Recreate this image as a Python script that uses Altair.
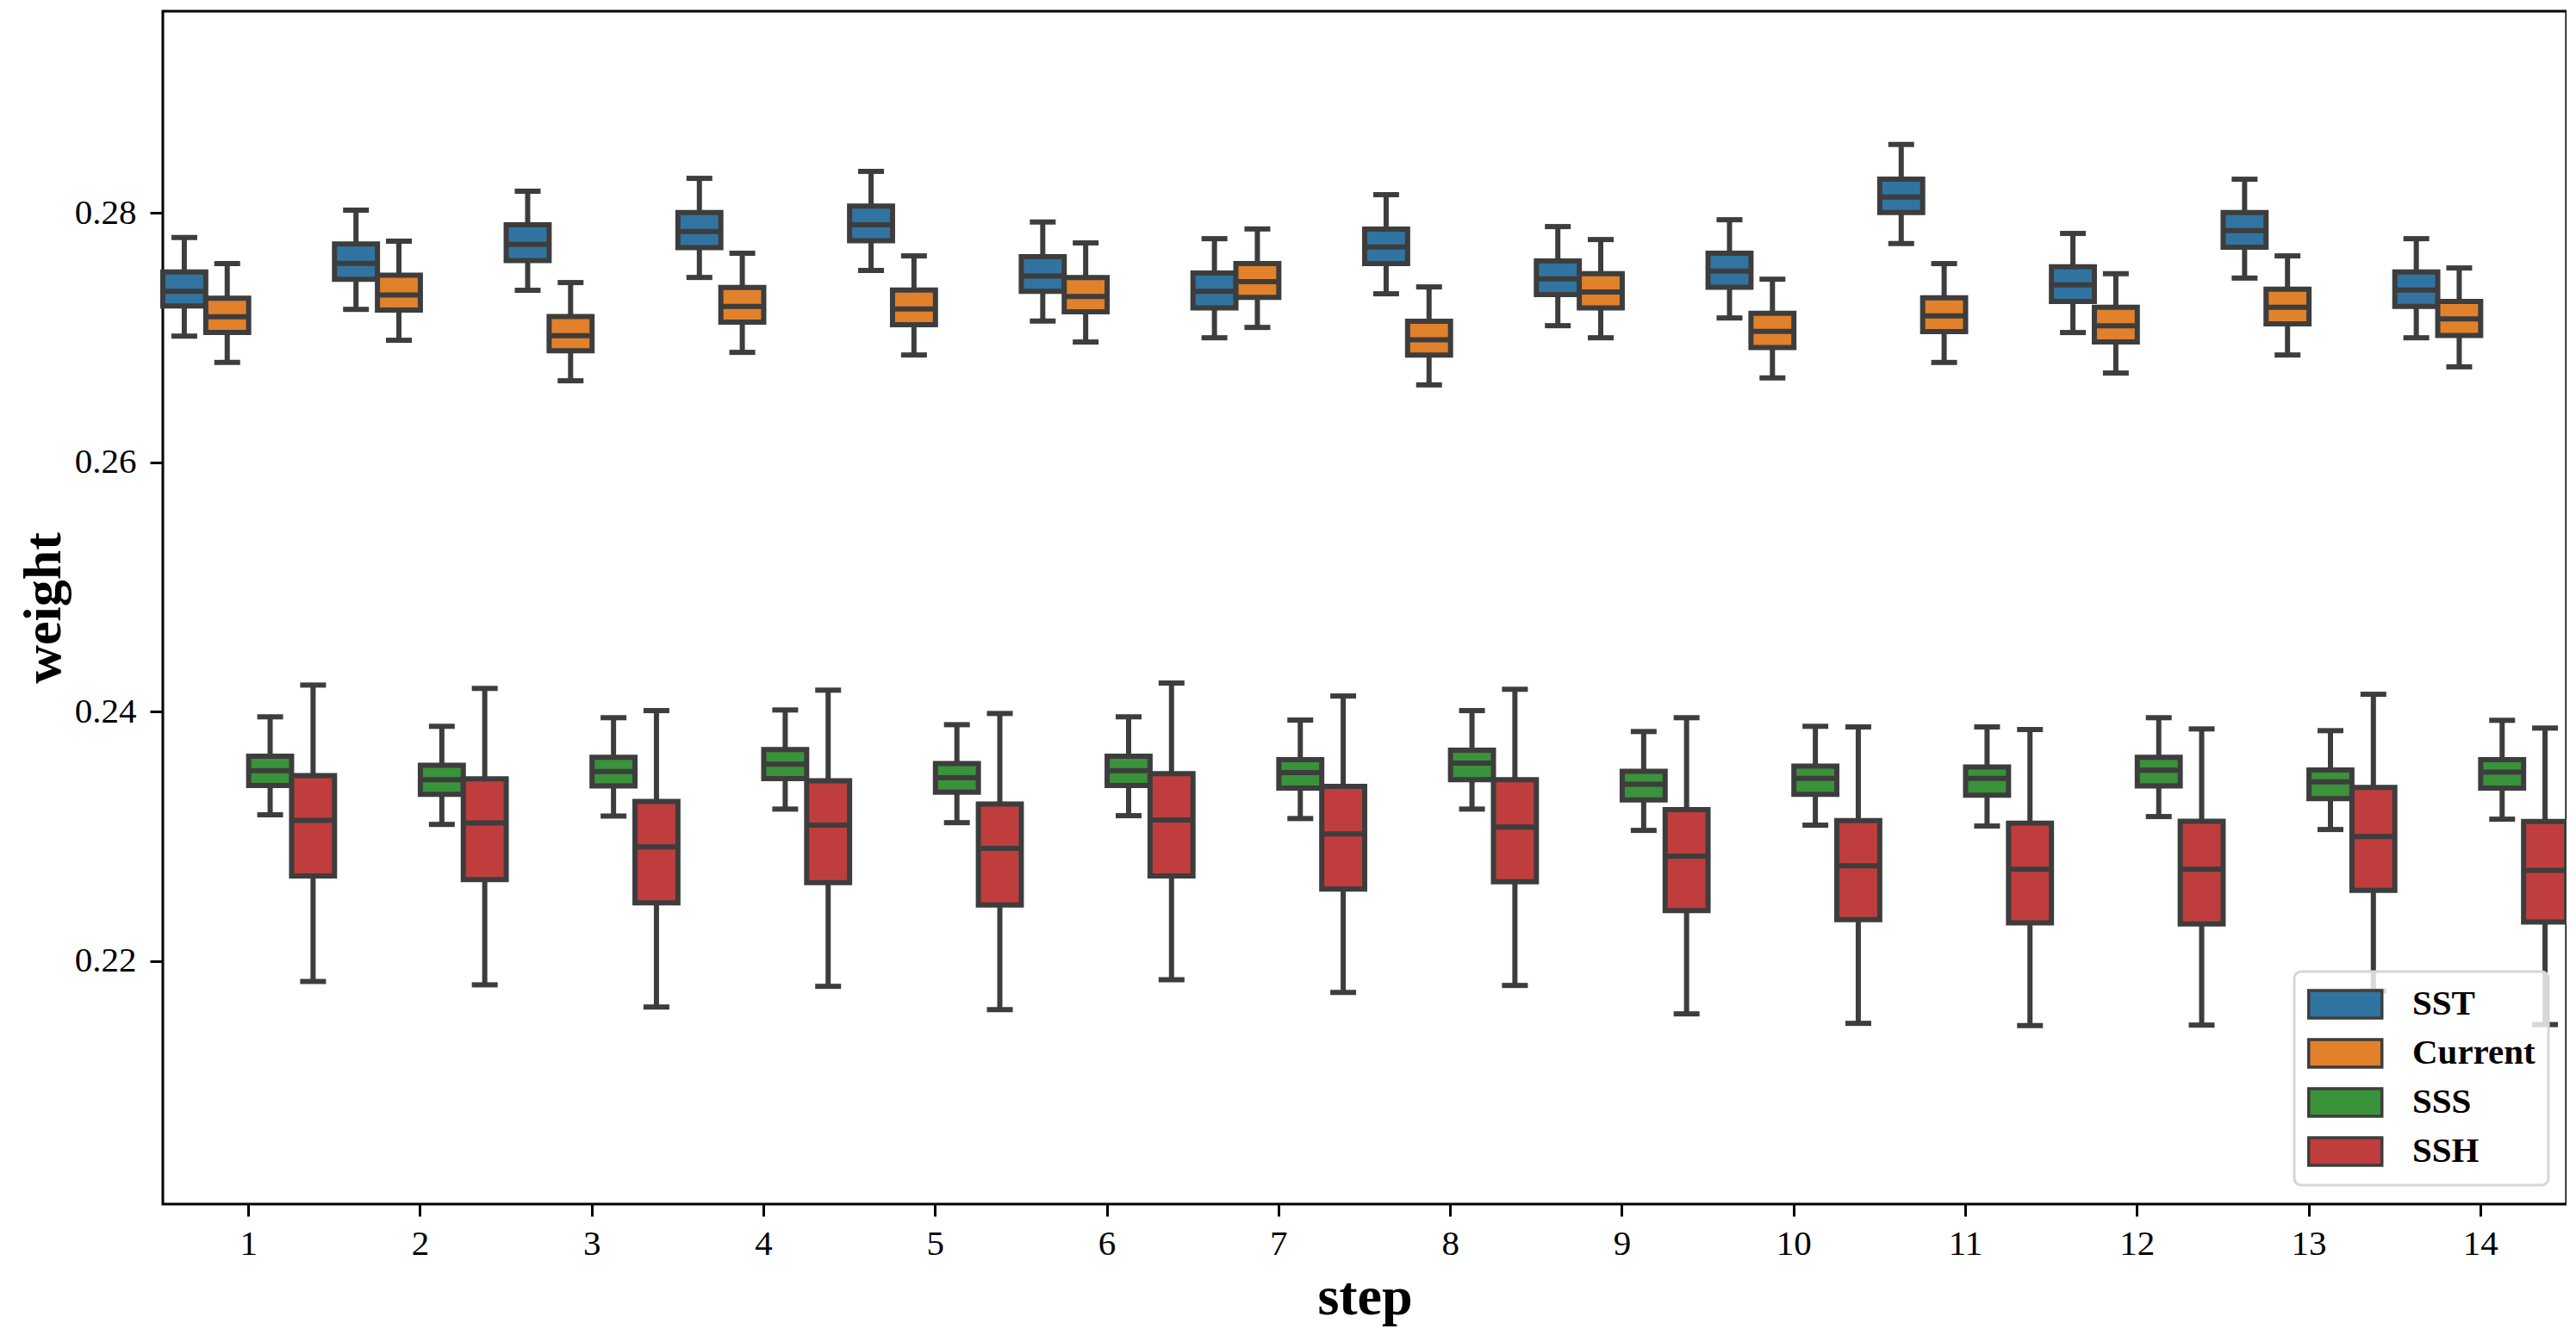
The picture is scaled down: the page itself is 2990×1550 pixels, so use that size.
import altair as alt
import pandas as pd

steps = list(range(1, 15))
variables = ["SST", "Current", "SSS", "SSH"]
colors = ["#3274a1", "#e1812c", "#3a923a", "#c03d3e"]

sst_min = [0.27014, 0.27228, 0.27381, 0.27484, 0.27540, 0.27134, 0.27000, 0.27353, 0.27097, 0.27159, 0.27756, 0.27042, 0.27479, 0.27000]
sst_q1 = [0.27256, 0.27470, 0.27620, 0.27724, 0.27779, 0.27372, 0.27240, 0.27595, 0.27346, 0.27406, 0.28005, 0.27291, 0.27726, 0.27251]
sst_med = [0.27372, 0.27597, 0.27749, 0.27853, 0.27906, 0.27496, 0.27372, 0.27728, 0.27473, 0.27535, 0.28129, 0.27424, 0.27860, 0.27383]
sst_q3 = [0.27528, 0.27752, 0.27906, 0.28005, 0.28056, 0.27650, 0.27519, 0.27871, 0.27616, 0.27678, 0.28272, 0.27569, 0.28005, 0.27528]
sst_max = [0.27804, 0.28024, 0.28176, 0.28279, 0.28335, 0.27929, 0.27795, 0.28148, 0.27892, 0.27947, 0.28551, 0.27837, 0.28272, 0.27795]

cur_min = [0.26802, 0.26980, 0.26655, 0.26883, 0.26862, 0.26966, 0.27083, 0.26622, 0.27000, 0.26678, 0.26802, 0.26717, 0.26862, 0.26767]
cur_q1 = [0.27042, 0.27222, 0.26895, 0.27125, 0.27104, 0.27208, 0.27325, 0.26862, 0.27240, 0.26922, 0.27049, 0.26966, 0.27111, 0.27019]
cur_med = [0.27168, 0.27344, 0.27016, 0.27251, 0.27231, 0.27332, 0.27450, 0.26984, 0.27367, 0.27051, 0.27175, 0.27097, 0.27244, 0.27152]
cur_q3 = [0.27318, 0.27503, 0.27171, 0.27403, 0.27383, 0.27484, 0.27595, 0.27132, 0.27514, 0.27196, 0.27320, 0.27244, 0.27390, 0.27291]
cur_max = [0.27595, 0.27775, 0.27443, 0.27678, 0.27657, 0.27761, 0.27873, 0.27408, 0.27788, 0.27470, 0.27595, 0.27514, 0.27657, 0.27560]

sss_min = [0.23173, 0.23096, 0.23163, 0.23219, 0.23110, 0.23166, 0.23143, 0.23219, 0.23048, 0.23090, 0.23083, 0.23159, 0.23055, 0.23138]
sss_q1 = [0.23408, 0.23338, 0.23405, 0.23463, 0.23355, 0.23408, 0.23387, 0.23454, 0.23293, 0.23338, 0.23331, 0.23405, 0.23302, 0.23387]
sss_med = [0.23528, 0.23454, 0.23521, 0.23580, 0.23470, 0.23528, 0.23511, 0.23587, 0.23419, 0.23466, 0.23466, 0.23530, 0.23438, 0.23516]
sss_q3 = [0.23643, 0.23571, 0.23634, 0.23696, 0.23585, 0.23643, 0.23615, 0.23691, 0.23523, 0.23564, 0.23557, 0.23634, 0.23532, 0.23615]
sss_max = [0.23959, 0.23883, 0.23952, 0.24014, 0.23896, 0.23959, 0.23933, 0.24009, 0.23841, 0.23883, 0.23878, 0.23952, 0.23848, 0.23931]

ssh_min = [0.21836, 0.21809, 0.21631, 0.21797, 0.21610, 0.21850, 0.21748, 0.21804, 0.21576, 0.21500, 0.21482, 0.21486, 0.21760, 0.21490]
ssh_q1 = [0.22682, 0.22654, 0.22467, 0.22629, 0.22449, 0.22682, 0.22578, 0.22636, 0.22405, 0.22332, 0.22306, 0.22297, 0.22567, 0.22313]
ssh_med = [0.23129, 0.23108, 0.22915, 0.23090, 0.22903, 0.23131, 0.23020, 0.23074, 0.22841, 0.22763, 0.22737, 0.22737, 0.22999, 0.22728]
ssh_q3 = [0.23488, 0.23461, 0.23281, 0.23447, 0.23260, 0.23504, 0.23401, 0.23454, 0.23214, 0.23127, 0.23106, 0.23122, 0.23392, 0.23120]
ssh_max = [0.24214, 0.24187, 0.24009, 0.24173, 0.23986, 0.24230, 0.24126, 0.24180, 0.23952, 0.23878, 0.23857, 0.23862, 0.24140, 0.23869]

y_ticks = [0.22, 0.24, 0.26, 0.28]

stats = {
    "SST": (sst_min, sst_q1, sst_med, sst_q3, sst_max),
    "Current": (cur_min, cur_q1, cur_med, cur_q3, cur_max),
    "SSS": (sss_min, sss_q1, sss_med, sss_q3, sss_max),
    "SSH": (ssh_min, ssh_q1, ssh_med, ssh_q3, ssh_max),
}

rows = []
for i, s in enumerate(steps):
    for v in variables:
        mn, q1, md, q3, mx = stats[v]
        rows.append({"step": s, "variable": v, "lo": mn[i], "q1": q1[i],
                     "med": md[i], "q3": q3[i], "hi": mx[i]})
df = pd.DataFrame(rows)

DARK = "#3d3d3d"
FONT = "Liberation Serif"
LW = 6

xscale = alt.Scale(paddingInner=0, paddingOuter=0)
xaxis = alt.Axis(labelAngle=0, tickSize=14, tickWidth=3, tickColor="black",
                 labelPadding=12, labelFontSize=41, labelFont=FONT, labelColor="black",
                 title="step", titleFont=FONT, titleFontSize=64, titleFontWeight="bold",
                 titleColor="black", titleBaseline="alphabetic", titleY=127,
                 domain=False, grid=False)
yscale = alt.Scale(domain=[0.2005, 0.2962], nice=False, zero=False)
yaxis = alt.Axis(values=y_ticks, format=".2f", tickSize=15, tickWidth=3, tickColor="black",
                 labelPadding=16, labelFontSize=41, labelFont=FONT, labelColor="black",
                 title="weight", titleFont=FONT, titleFontSize=62, titleFontWeight="bold",
                 titleColor="black", titleBaseline="alphabetic", titleX=-120,
                 domain=False, grid=False)


def Y(field):
    return alt.Y(f"{field}:Q", scale=yscale, axis=yaxis, title="weight")


base = alt.Chart(df).encode(
    x=alt.X("step:O", scale=xscale, axis=xaxis, title="step"),
    xOffset=alt.XOffset("variable:N", scale=alt.Scale(domain=variables, paddingInner=0, paddingOuter=0)),
)

whiskers = base.mark_rule(color=DARK, strokeWidth=LW).encode(y=Y("lo"), y2="hi:Q")

boxes = base.mark_bar(stroke=DARK, strokeWidth=LW, opacity=1).encode(
    y=Y("q1"), y2="q3:Q",
    color=alt.Color("variable:N",
                    scale=alt.Scale(domain=variables, range=colors),
                    legend=alt.Legend(title=None, orient="none", legendX=2474, legendY=1115,
                                      symbolType="M-1,-0.753L3,-0.753L3,0.753L-1,0.753Z",
                                      symbolSize=1806, symbolStrokeColor=DARK,
                                      symbolStrokeWidth=3.5, symbolOpacity=1,
                                      labelFont=FONT, labelFontSize=41, labelFontWeight="bold",
                                      labelColor="black", labelOffset=76, rowPadding=9,
                                      labelLimit=150,
                                      padding=15, fillColor="rgba(255,255,255,0.8)",
                                      strokeColor="#d6d6d6", cornerRadius=8)),
)

medians = base.mark_tick(color=DARK, size=52, thickness=LW, opacity=1).encode(y=Y("med"))
cap_lo = base.mark_tick(color=DARK, size=30, thickness=LW, opacity=1).encode(y=Y("lo"))
cap_hi = base.mark_tick(color=DARK, size=30, thickness=LW, opacity=1).encode(y=Y("hi"))

chart = alt.layer(whiskers, boxes, medians, cap_lo, cap_hi).properties(
    width=2790, height=1385,
    padding={"left": 181, "top": 5, "right": 0, "bottom": 143},
    autosize=alt.AutoSizeParams(type="none"),
    background="white",
).configure_view(stroke="black", strokeWidth=3).configure_legend(strokeWidth=3)

chart.save("out.html", embed_options={"renderer": "svg", "actions": False})
